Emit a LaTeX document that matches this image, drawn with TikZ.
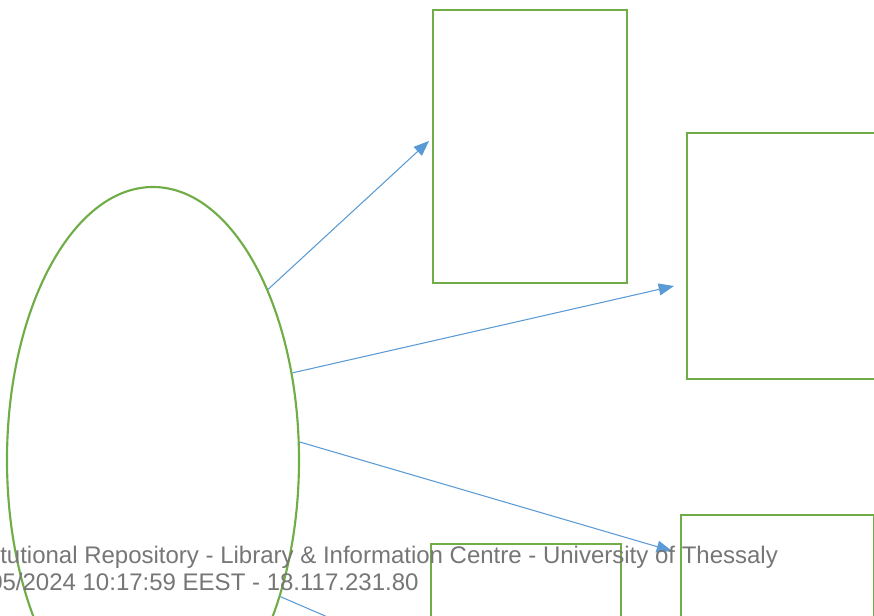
\documentclass[tikz,border=0pt]{standalone}
\usepackage{fontspec}
\setmainfont{Liberation Sans}
\definecolor{boxgreen}{RGB}{112, 173, 71}
\definecolor{linkblue}{RGB}{91, 155, 213}
\definecolor{markgray}{RGB}{118, 118, 118}
\usetikzlibrary{shapes, arrows.meta, positioning, calc}

\begin{document}
\begin{tikzpicture}[x=0.75pt, y=-0.75pt]
  \tikzset{
    greenbox/.style={draw=boxgreen, line width=1.6pt, inner sep=0pt},
    link/.style={draw=linkblue, line width=0.8pt, -{Triangle[length=11.5pt, width=9pt]}},
    stamp/.style={text=markgray, font=\fontsize{18pt}{20pt}\selectfont, anchor=base west, inner sep=0pt}
  }
  \useasboundingbox (0,0) rectangle (874,616);
  \clip (0,0) rectangle (874,616);

  % Source ellipse
  \node[greenbox, ellipse, minimum width=219pt, minimum height=409.5pt] (ell) at (153,460) {};

  % Target boxes
  \node[greenbox, minimum width=145.5pt, minimum height=204.75pt] (box1) at (530,146.5) {};
  \node[greenbox, minimum width=145.5pt, minimum height=184.5pt] (box2) at (784,256) {};
  \node[greenbox, minimum width=144.75pt, minimum height=184.5pt] (box3) at (777.5,638) {};
  \node[greenbox, minimum width=142.5pt, minimum height=204.75pt] (box4) at (526,680.5) {};

  % Arrow ends
  \coordinate (t1) at (429,141);
  \coordinate (t2) at (674,286);
  \coordinate (t3) at (672,551);
  \coordinate (t4) at (425,659);

  \draw[link] (ell.56) -- (t1);
  \draw[link] (ell.32) -- (t2);
  \draw[link] (ell.7) -- (t3);
  \draw[link] (ell.-47) -- (t4);

  % Watermark
  \node[stamp] (w1) at (0,563) {tutional Repository - Library \& Information Centre - University of Thessaly};
  \node[stamp] (w2) at (-11,590) {05/2024 10:17:59 EEST - 18.117.231.80};
\end{tikzpicture}
\end{document}
